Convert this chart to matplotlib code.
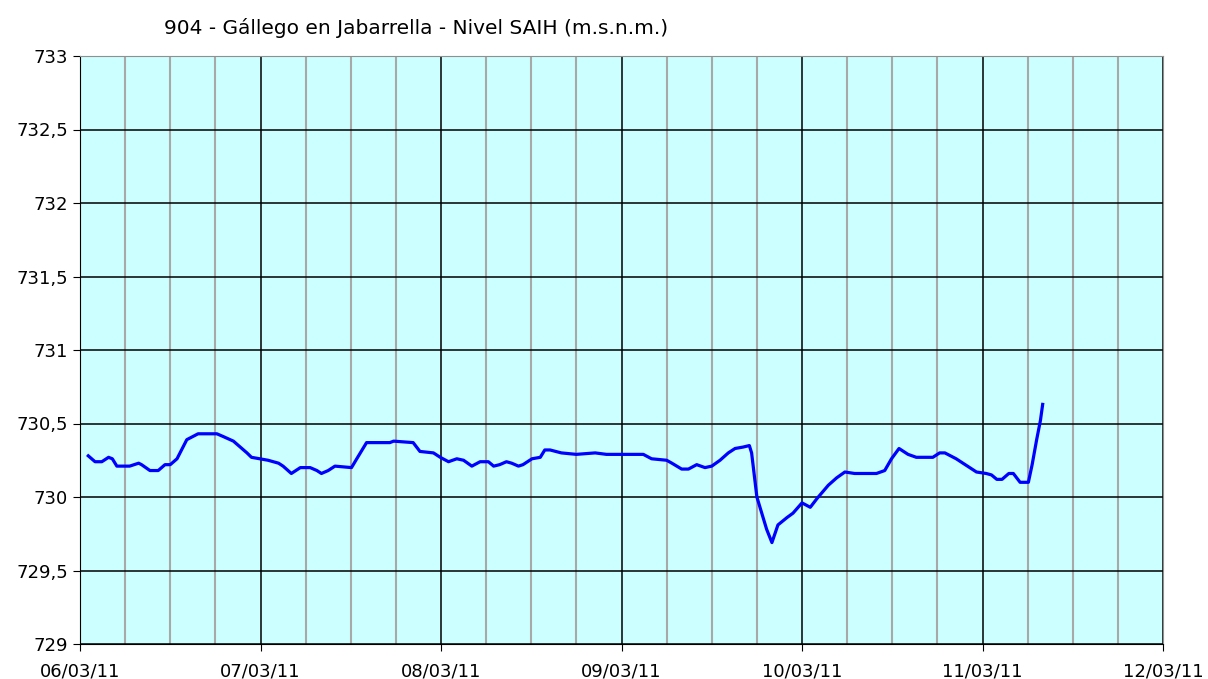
import matplotlib
matplotlib.use("Agg")
import matplotlib.pyplot as plt
import matplotlib.dates as mdates
import matplotlib.ticker as ticker
import numpy as np

title = "904 - Gállego en Jabarrella - Nivel SAIH (m.s.n.m.)"

# hours since 06/03/11 00:00 and river level (m.s.n.m.)
hours = [1.1, 2.0, 2.9, 3.8, 4.3, 4.9, 6.6, 7.8, 8.2, 9.3, 10.4, 11.3, 12.0, 12.9,
         13.7, 14.2, 15.7, 18.2, 19.1, 20.4, 22.2, 22.8, 23.9, 25.0, 26.4, 27.0,
         28.1, 29.3, 30.6, 31.5, 32.1, 33.0, 33.9, 36.1, 36.8, 38.1, 41.2, 41.7,
         44.3, 45.2, 47.0, 47.9, 49.0, 50.1, 51.0, 52.1, 53.2, 54.3, 55.0, 55.8,
         56.7, 57.4, 58.3, 58.9, 60.1, 61.2, 61.8, 62.5, 64.0, 66.0, 68.5, 70.0,
         70.5, 74.9, 76.0, 78.0, 78.7, 80.0, 80.9, 82.0, 83.1, 84.0, 85.1, 86.2,
         87.1, 88.2, 89.0, 89.3, 90.0, 91.3, 92.0, 92.8, 94.0, 94.8, 96.0, 97.1,
         98.0, 99.5, 100.6, 101.7, 103.0, 105.9, 107.0, 107.9, 108.9, 110.1,
         111.2, 113.4, 114.3, 115.0, 116.5, 118.3, 119.2, 120.5, 121.2, 121.9,
         122.6, 123.5, 124.1, 125.0, 126.1, 126.6, 127.2, 127.7, 128.0]
levels = [730.28, 730.24, 730.24, 730.27, 730.26, 730.21, 730.21, 730.23, 730.22,
          730.18, 730.18, 730.22, 730.22, 730.26, 730.34, 730.39, 730.43, 730.43,
          730.41, 730.38, 730.30, 730.27, 730.26, 730.25, 730.23, 730.21, 730.16,
          730.20, 730.20, 730.18, 730.16, 730.18, 730.21, 730.20, 730.26, 730.37,
          730.37, 730.38, 730.37, 730.31, 730.30, 730.27, 730.24, 730.26, 730.25,
          730.21, 730.24, 730.24, 730.21, 730.22, 730.24, 730.23, 730.21, 730.22,
          730.26, 730.27, 730.32, 730.32, 730.30, 730.29, 730.30, 730.29, 730.29,
          730.29, 730.26, 730.25, 730.23, 730.19, 730.19, 730.22, 730.20, 730.21,
          730.25, 730.30, 730.33, 730.34, 730.35, 730.30, 730.00, 729.78, 729.69,
          729.81, 729.86, 729.89, 729.96, 729.93, 729.99, 730.08, 730.13, 730.17,
          730.16, 730.16, 730.18, 730.26, 730.33, 730.29, 730.27, 730.27, 730.30,
          730.30, 730.26, 730.20, 730.17, 730.16, 730.15, 730.12, 730.12, 730.16,
          730.16, 730.10, 730.10, 730.22, 730.39, 730.52, 730.63]

start = np.datetime64("2011-03-06T00:00")
end = np.datetime64("2011-03-12T00:00")
times = start + (np.array(hours) * 60).astype("timedelta64[m]")

fig = plt.figure(figsize=(12.08, 6.79), dpi=100)
ax = fig.add_axes([80 / 1208, 35 / 679, 1083 / 1208, 588 / 679])
ax.set_facecolor("#CCFFFF")

ax.plot(times, levels, color="#0000FF", lw=2.3, zorder=3)

ax.set_xlim(start, end)
ax.set_ylim(729, 733)

ax.xaxis.set_major_locator(mdates.DayLocator())
ax.xaxis.set_minor_locator(mdates.HourLocator(byhour=[6, 12, 18]))
ax.xaxis.set_major_formatter(mdates.DateFormatter("%d/%m/%y"))
ax.yaxis.set_major_locator(ticker.MultipleLocator(0.5))
ax.yaxis.set_major_formatter(ticker.FuncFormatter(
    lambda v, p: ("%g" % v).replace(".", ",")))

ax.grid(True, which="major", color="black", lw=1.1, zorder=1)
ax.grid(True, which="minor", axis="x", color="#A8A8A8", lw=1.5, zorder=1)
ax.set_axisbelow(True)

ax.tick_params(axis="both", which="major", labelsize=13, length=5,
               direction="out", color="black")
ax.tick_params(axis="x", which="minor", length=0)
ax.tick_params(axis="x", pad=8)

for side in ["left", "bottom"]:
    ax.spines[side].set_color("black")
for side in ["top", "right"]:
    ax.spines[side].set_color("#909090")

fig.text(416 / 1208, 1 - 28 / 679, title, ha="center", va="center", fontsize=14.5)

fig.savefig("out.png", dpi=100)
